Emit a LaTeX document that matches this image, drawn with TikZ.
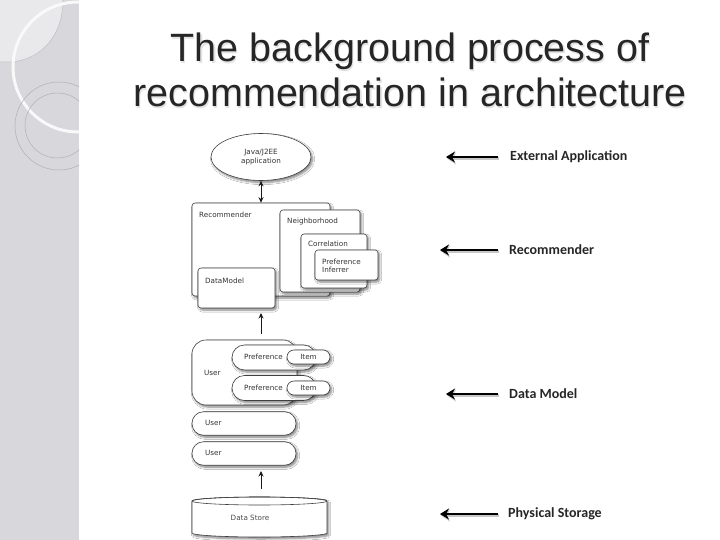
\documentclass[tikz,border=0pt]{standalone}
\usepackage{fontspec}
\setmainfont{Liberation Sans}
\newfontfamily\diagfont{DejaVu Sans}
\newfontfamily\labfont{Carlito}
\usetikzlibrary{shapes.geometric,shadows.blur,arrows.meta}
\definecolor{sidebar}{HTML}{D7D7DC}
\tikzset{
  dshadow/.style={blur shadow={shadow xshift=1.6pt, shadow yshift=-2pt, shadow blur steps=6, shadow opacity=50}},
  dbox/.style={draw=black!75, line width=0.6pt, fill=white, rounded corners=3pt, dshadow, inner sep=0pt},
  pill/.style={dbox, rounded corners=#1},
  dtext/.style={font=\diagfont\fontsize{7.2}{8.4}\selectfont, text=black!80, inner sep=0pt},
  conn/.style={black!90, line width=0.9pt},
  smalltip/.style={-{Stealth[length=5.5pt,width=5pt]}},
  bigarr/.style={black, line width=2.6pt, -{Stealth[length=9pt,width=11pt,inset=3pt]}},
  bigshadow/.style={black!22, line width=3pt, -{Stealth[length=9pt,width=12pt,inset=3pt]}},
  rlabel/.style={font=\labfont\bfseries\fontsize{14}{16}\selectfont, anchor=west, text=black!85, inner sep=0pt},
}
\begin{document}
\begin{tikzpicture}[x=1pt,y=-1pt]
\useasboundingbox (0,0) rectangle (720,540);
\fill[white] (0,0) rectangle (720,540);
% sidebar
\fill[sidebar] (0,0) rectangle (79,540);
\begin{scope}
  \clip (0,0) rectangle (79,540);
  \fill[white!45!sidebar] (0,0) -- (63,0) .. controls (63,35) and (42,60) .. (10,62) -- (0,62) -- cycle;
  \draw[gray!50, line width=0.5pt] (63,0) .. controls (63,35) and (42,60) .. (10,62) -- (0,62);
  \draw[white!85!sidebar, line width=3pt] (78,67) circle[radius=65];
  \draw[gray!60, line width=0.5pt] (59,126) circle[radius=44];
  \draw[gray!60, line width=0.5pt] (57.5,125.5) circle[radius=32.5];
\end{scope}
% title
\begin{scope}[font=\fontsize{39.5}{46}\selectfont]
  \node[anchor=base, text=gray!22, inner sep=0pt] at (411.2,63.2) {The background process of};
  \node[anchor=base, text=gray!22, inner sep=0pt] at (411.2,108.2) {recommendation in architecture};
  \node[anchor=base, text=black!85, inner sep=0pt] (t1) at (410,62) {The background process of};
  \node[anchor=base, text=black!85, inner sep=0pt] (t2) at (410,107) {recommendation in architecture};
\end{scope}
% external application
\node[ellipse, draw=black!75, line width=0.6pt, fill=white, minimum width=100pt, minimum height=47pt,
  dshadow, align=center, dtext] (java) at (261,157) {Java/J2EE\\application};
% recommender
\node[dbox, minimum width=138pt, minimum height=93pt] (rec) at (261,249.5) {};
\node[dtext, anchor=west] (recl) at (199,215) {Recommender};
\node[dbox, minimum width=80pt, minimum height=82pt] (nb) at (320,251) {};
\node[dtext, anchor=west] (nbl) at (287,222) {Neighborhood};
\node[dbox, minimum width=66pt, minimum height=54pt] (cor) at (334,261) {};
\node[dtext, anchor=west] (corl) at (308,244) {Correlation};
\node[dbox, minimum width=63pt, minimum height=30pt] (pi) at (346.5,265) {};
\node[dtext, anchor=west, align=left] (pil) at (322,266) {Preference\\Inferrer};
\node[dbox, minimum width=77pt, minimum height=40pt] (dm) at (236.5,288) {};
\node[dtext, anchor=west] (dml) at (205,281) {DataModel};
\draw[conn, {Stealth[length=5.5pt,width=5pt]}-{Stealth[length=5.5pt,width=5pt]}] (java.south) -- (rec.north);
% data model
\node[pill=14pt, minimum width=105pt, minimum height=65pt] (user) at (244.5,372.5) {};
\node[dtext, anchor=west] (userl) at (204,373) {User};
\node[pill=12.5pt, minimum width=84pt, minimum height=25pt] (pref1) at (274,357.5) {};
\node[dtext, anchor=west] (pref1l) at (244,357) {Preference};
\node[pill=7pt, minimum width=43pt, minimum height=14pt, dtext] (item1) at (308.5,357) {Item};
\node[pill=12.5pt, minimum width=84pt, minimum height=25pt] (pref2) at (274,388) {};
\node[dtext, anchor=west] (pref2l) at (244,388) {Preference};
\node[pill=7pt, minimum width=43pt, minimum height=14pt, dtext] (item2) at (308.5,388) {Item};
\node[pill=11.5pt, minimum width=104pt, minimum height=23.5pt] (user2) at (244,423.5) {};
\node[dtext, anchor=west] (user2l) at (205,423) {User};
\node[pill=11.5pt, minimum width=104pt, minimum height=23.5pt] (user3) at (244,453.5) {};
\node[dtext, anchor=west] (user3l) at (205,453) {User};
\coordinate (a1s) at (261,334);
\coordinate (a1e) at (261,313);
\draw[conn, smalltip] (a1s) -- (a1e);
% data store (cylinder)
\path[draw=black!75, line width=0.6pt, fill=white, dshadow]
  (192,501) -- (192,533) arc[start angle=180, end angle=0, x radius=67.5, y radius=4] -- (327,501)
  arc[start angle=0, end angle=-180, x radius=67.5, y radius=4] -- cycle;
\draw[black!75, line width=0.6pt] (259.5,501) ellipse[x radius=67.5, y radius=4];
\node[dtext, text=black!70] (ds) at (250,518) {Data Store};
\coordinate (dstop) at (261,489);
\coordinate (dsup) at (261,471);
\draw[conn, smalltip] (dstop) -- (dsup);
% right labels
\coordinate (r1s) at (498,157); \coordinate (r1e) at (446,157);
\coordinate (r2s) at (498,250); \coordinate (r2e) at (440,250);
\coordinate (r3s) at (498,394); \coordinate (r3e) at (446,394);
\coordinate (r4s) at (498,514); \coordinate (r4e) at (440,514);
\foreach \s/\e in {r1s/r1e,r2s/r2e,r3s/r3e,r4s/r4e}{
  \draw[bigshadow] ([shift={(1pt,-1.5pt)}]\s) -- ([shift={(1pt,-1.5pt)}]\e);
  \draw[bigarr] (\s) -- (\e);
}
\node[rlabel] (l1) at (510,157) {External Application};
\node[rlabel] (l2) at (509,250) {Recommender};
\node[rlabel] (l3) at (509,394) {Data Model};
\node[rlabel] (l4) at (508,514) {Physical Storage};
\end{tikzpicture}
\end{document}
